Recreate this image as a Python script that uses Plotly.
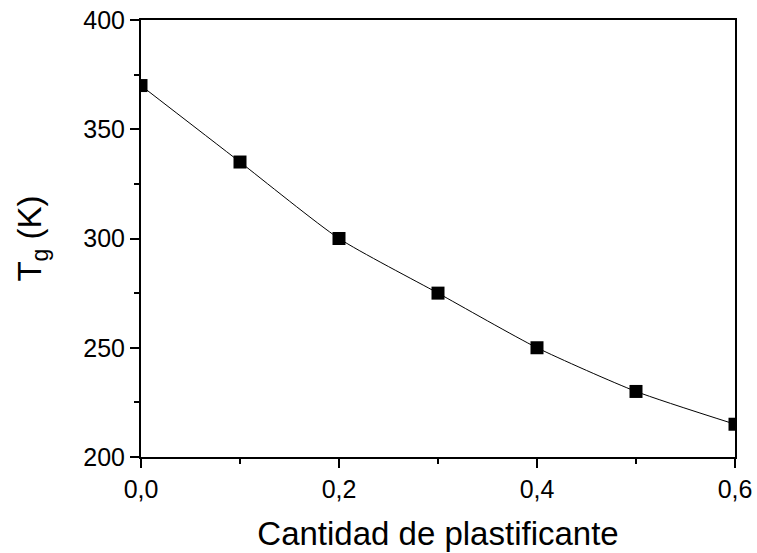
import plotly.graph_objects as go

# Glass transition temperature vs plasticizer content
plasticizer = [0.0, 0.1, 0.2, 0.3, 0.4, 0.5, 0.6]
tg_kelvin = [370, 335, 300, 275, 250, 230, 215]

x_ticks = [0.0, 0.2, 0.4, 0.6]
x_tick_text = ["0,0", "0,2", "0,4", "0,6"]
y_ticks = [200, 250, 300, 350, 400]

fig = go.Figure()
fig.add_trace(go.Scatter(
    x=plasticizer, y=tg_kelvin,
    mode="lines+markers",
    line=dict(color="black", width=1, shape="spline", smoothing=0.6),
    marker=dict(symbol="square", size=13, color="black"),
    cliponaxis=True,
    showlegend=False,
))

axis_font = dict(family="Liberation Sans, Arial, sans-serif", size=25, color="black")
title_font = dict(family="Liberation Sans, Arial, sans-serif", size=33, color="black")

fig.update_xaxes(
    range=[0, 0.6],
    tickvals=x_ticks, ticktext=x_tick_text,
    ticks="outside", ticklen=9, tickwidth=1.5, tickcolor="black",
    minor=dict(dtick=0.1, tick0=0, ticks="outside", ticklen=5, tickwidth=1.5, tickcolor="black"),
    showline=True, linecolor="black", linewidth=2, mirror=True,
    showgrid=False, zeroline=False,
    tickfont=axis_font, automargin=False,
    title=dict(text="Cantidad de plastificante", font=title_font, standoff=20),
)
fig.update_yaxes(
    range=[200, 400],
    tickvals=y_ticks,
    ticks="outside", ticklen=9, tickwidth=1.5, tickcolor="black",
    minor=dict(dtick=25, tick0=200, ticks="outside", ticklen=5, tickwidth=1.5, tickcolor="black"),
    showline=True, linecolor="black", linewidth=2, mirror=True,
    showgrid=False, zeroline=False,
    tickfont=axis_font, automargin=False,
    title=dict(text="T<sub>g</sub> (K)", font=title_font, standoff=32),
)

fig.update_layout(
    width=757, height=553,
    margin=dict(l=141, r=22, t=20, b=96),
    plot_bgcolor="white", paper_bgcolor="white",
)

fig.write_html("out.html")
